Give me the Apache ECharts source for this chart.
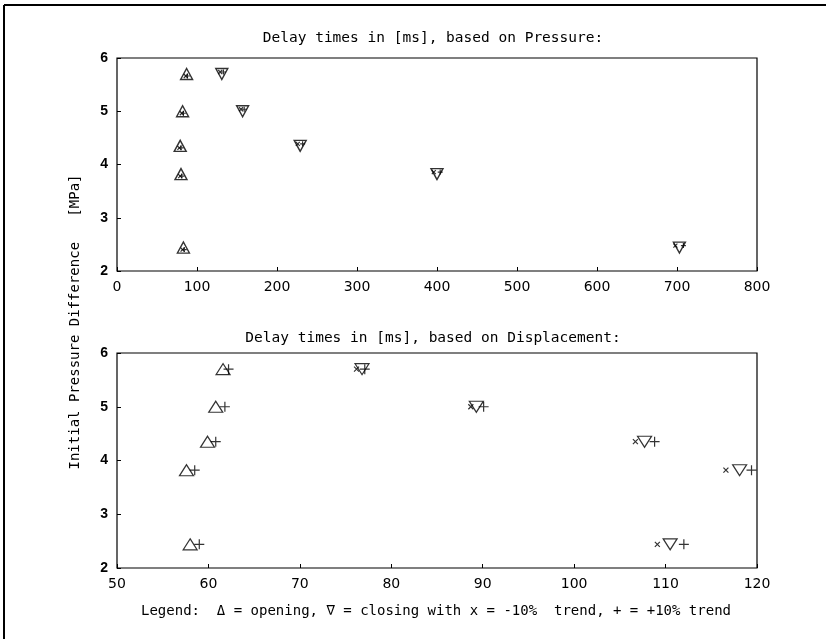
<!DOCTYPE html>
<html>
<head>
<meta charset="utf-8">
<script src="https://cdn.jsdelivr.net/npm/echarts@6/dist/echarts.min.js"></script>
<style>
html,body{margin:0;padding:0;background:#fff;}
#chart{width:830px;height:639px;}
</style>
</head>
<body>
<div id="chart"></div>
<script>
// Pressure levels (MPa)
const pressure = [5.7, 5.0, 4.35, 3.82, 2.44];
// Top plot: delay times based on pressure (ms)
const openPressureMs = [87, 82, 79, 80, 83];
const openPressureMinusMs = [86, 81, 78, 79, 82];
const openPressurePlusMs = [88, 83, 80, 81, 84];
const closePressureMs = [131, 157, 229, 400, 703];
const closePressureMinusMs = [129, 155, 226, 396, 698];
const closePressurePlusMs = [133, 159, 232, 404, 708];
// Bottom plot: delay times based on displacement (ms)
const openDispMs = [61.6, 60.8, 59.9, 57.6, 58.0];
const openDispPlusMs = [62.2, 61.8, 60.8, 58.5, 59.0];
const closeDispMs = [76.8, 89.3, 107.7, 118.1, 110.5];
const closeDispMinusMs = [76.2, 88.7, 106.7, 116.6, 109.1];
const closeDispPlusMs = [77.1, 90.1, 108.8, 119.4, 112.0];
// Axis ticks
const topXTicks = [0, 100, 200, 300, 400, 500, 600, 700, 800];
const bottomXTicks = [50, 60, 70, 80, 90, 100, 110, 120];
const yTicks = [2, 3, 4, 5, 6];

const topTitle = 'Delay times in [ms], based on Pressure:';
const bottomTitle = 'Delay times in [ms], based on Displacement:';
const yName = 'Initial Pressure Difference   [MPa]';
const legendText = 'Legend:  \u0394 = opening, \u2207 = closing with x = -10%  trend, + = +10% trend';

const FONT = '"Liberation Sans", Arial, sans-serif';
const WIDE = '"DejaVu Sans Mono", monospace';
const DJ = '"DejaVu Sans", sans-serif';
const CROSS = 'path://M0,0L10,10M10,0L0,10';
const PLUS = 'path://M5,0L5,10M0,5L10,5';

function pts(xs) { return xs.map((x, i) => [x, pressure[i]]); }

function mark(name, xs, idx, symbol, size, rotate, offset, bw) {
  return {
    name: name, type: 'scatter', xAxisIndex: idx, yAxisIndex: idx,
    data: pts(xs), symbol: symbol, symbolSize: size, symbolRotate: rotate || 0,
    symbolOffset: offset || [0, 0],
    itemStyle: { color: 'rgba(0,0,0,0)', borderColor: '#000', borderWidth: bw || 1.2 },
    emphasis: { disabled: true }, silent: true
  };
}

function xAxis(idx, ticks) {
  return {
    type: 'value', gridIndex: idx, min: ticks[0], max: ticks[ticks.length - 1],
    interval: ticks[1] - ticks[0],
    axisLine: { show: false },
    axisTick: { show: true, inside: true, length: 4, lineStyle: { color: '#000' } },
    splitLine: { show: false },
    axisLabel: { color: '#000', fontSize: 14, fontFamily: DJ, margin: 9 }
  };
}
function yAxis(idx) {
  return {
    type: 'value', gridIndex: idx, min: yTicks[0], max: yTicks[yTicks.length - 1],
    interval: 1,
    axisLine: { show: false },
    axisTick: { show: true, inside: true, length: 4, lineStyle: { color: '#000' } },
    splitLine: { show: false },
    axisLabel: { color: '#000', fontSize: 14, fontFamily: FONT, margin: 9, fontWeight: 'bold' }
  };
}

const chart = echarts.init(document.getElementById('chart'), null, { renderer: 'canvas' });
chart.setOption({
  backgroundColor: '#fff',
  animation: false,
  grid: [
    { left: 117, top: 58, width: 640, height: 213, show: true, borderColor: '#000', borderWidth: 1.2, backgroundColor: 'transparent' },
    { left: 117, top: 353, width: 640, height: 215, show: true, borderColor: '#000', borderWidth: 1.2, backgroundColor: 'transparent' }
  ],
  xAxis: [xAxis(0, topXTicks), xAxis(1, bottomXTicks)],
  yAxis: [yAxis(0), yAxis(1)],
  series: [
    mark('opening', openPressureMs, 0, 'triangle', [12, 11], 0, null, 1.4),
    mark('opening -10%', openPressureMinusMs, 0, CROSS, 4, 0, [0, 2]),
    mark('opening +10%', openPressurePlusMs, 0, PLUS, 5, 0, [0, 2]),
    mark('closing', closePressureMs, 0, 'triangle', [12, 11], 180, null, 1.4),
    mark('closing -10%', closePressureMinusMs, 0, CROSS, 4, 0, [0, -2]),
    mark('closing +10%', closePressurePlusMs, 0, PLUS, 5, 0, [0, -2]),
    mark('opening', openDispMs, 1, 'triangle', [14, 11]),
    mark('opening +10%', openDispPlusMs, 1, PLUS, 10),
    mark('closing', closeDispMs, 1, 'triangle', [14, 11], 180),
    mark('closing -10%', closeDispMinusMs, 1, CROSS, 5),
    mark('closing +10%', closeDispPlusMs, 1, PLUS, 10)
  ],
  graphic: [
    { type: 'line', shape: { x1: 4, y1: 5, x2: 4, y2: 639 }, style: { stroke: '#000', lineWidth: 2 } },
    { type: 'line', shape: { x1: 4, y1: 5, x2: 826, y2: 5 }, style: { stroke: '#000', lineWidth: 2 } },
    { type: 'text', x: 433, y: 38, style: { text: topTitle, fill: '#000', font: '14.5px ' + WIDE, textAlign: 'center', textVerticalAlign: 'middle' } },
    { type: 'text', x: 433, y: 338, style: { text: bottomTitle, fill: '#000', font: '14.5px ' + WIDE, textAlign: 'center', textVerticalAlign: 'middle' } },
    { type: 'text', x: 436, y: 611, style: { text: legendText, fill: '#000', font: '14px ' + WIDE, textAlign: 'center', textVerticalAlign: 'middle' } },
    { type: 'text', x: 75, y: 322, rotation: Math.PI / 2, style: { text: yName, fill: '#000', font: '14px ' + WIDE, textAlign: 'center', textVerticalAlign: 'middle' } }
  ]
});
</script>
</body>
</html>
